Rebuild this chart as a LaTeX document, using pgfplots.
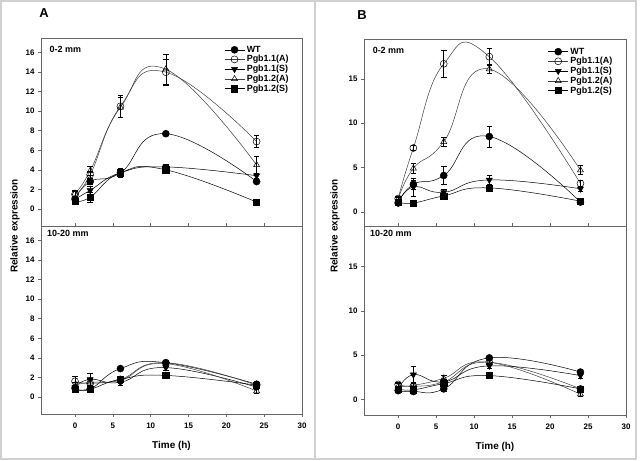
\documentclass[border=0pt]{standalone}
\usepackage{pgfplots}
\pgfplotsset{compat=1.18}
\usepackage{fontspec}
\setmainfont{Liberation Sans}

\pgfplotsset{
  panel/.style={
    scale only axis,
    xmin=-4.5, xmax=30,
    xtick={0,5,...,30},
    axis line style={black!60, line width=0.8bp},
    tick style={black!60, line width=0.6bp},
    major tick length=3bp,
    ytick pos=left, xtick pos=bottom,
    yticklabel style={font=\fontsize{8}{9}\selectfont\bfseries},
    xticklabel style={font=\fontsize{8}{9}\selectfont\bfseries, yshift=-2bp},
    /pgf/number format/assume math mode=true,
    clip=false,
  },
  toppanel/.style={panel, xticklabels={}, xtick align=inside, ytick align=outside},
  botpanel/.style={panel, tick align=outside,
    xlabel={Time (h)},
    xlabel style={font=\fontsize{10}{11}\selectfont\bfseries, yshift=-6bp}},
  lg/.style={legend style={draw=none, fill=none, anchor=north west,
    font=\fontsize{9}{10}\selectfont\bfseries, row sep=-2.2bp,
    cells={anchor=west}},
    legend image code/.code={
      \draw[mark repeat=2,mark phase=2] plot coordinates {(0bp,0bp) (10bp,0bp) (20bp,0bp)};}},
  ser/.style={line width=0.5bp, smooth, tension=0.8, mark size=3.5bp,
    error bars/y dir=both, error bars/y explicit,
    error bars/error bar style={black, line width=0.5bp},
    error bars/error mark options={black, line width=0.5bp, mark size=2.8bp, rotate=90}},
  wt/.style={ser, black, mark=*, mark options={fill=black, solid}},
  p11a/.style={ser, black!75, mark=o, mark options={fill=white, draw=black, solid}},
  p11s/.style={ser, black, mark=triangle*, mark options={fill=black, rotate=180, solid}},
  p12a/.style={ser, black!75, mark=triangle, mark options={fill=white, draw=black, solid}},
  p12s/.style={ser, black, mark=square*, mark size=3.1bp, mark options={fill=black, solid}},
}

\begin{document}
\begin{tikzpicture}
\useasboundingbox (0,0) rectangle (640bp,461bp);
\fill[white] (0,0) rectangle (640bp,461bp);
\draw[black!18, line width=1.4bp] (1bp,2bp) rectangle (315bp,460bp);
\draw[black!18, line width=1.4bp] (315bp,2bp) rectangle (636bp,460bp);

\node[font=\fontsize{13}{15}\selectfont\bfseries] at (44bp,448bp) {A};
\node[font=\fontsize{13}{15}\selectfont\bfseries] at (362bp,446bp) {B};
\node[rotate=90, font=\fontsize{10}{11}\selectfont\bfseries] at (15bp,235bp) {Relative expression};
\node[rotate=90, font=\fontsize{10}{11}\selectfont\bfseries] at (335bp,235bp) {Relative expression};

% ---------- Panel A, 0-2 mm ----------
\begin{axis}[toppanel, lg, at={(41bp,235bp)}, anchor=south west,
  width=261bp, height=188bp, ymin=-1.75, ymax=17.5, ytick={0,2,...,16},
  legend style={at={(0.69,0.98)}}]
\node[anchor=north west, font=\fontsize{9}{10}\selectfont\bfseries] at (rel axis cs:0.02,0.975) {0-2 mm};
\addplot[wt] coordinates {(0,1.0) +- (0,0.2) (2,2.8) +- (0,0.3) (6,3.7) +- (0,0.5) (12,7.7) +- (0,0.2) (24,2.8) +- (0,0.2)};
\addplot[p11a] coordinates {(0,1.5) +- (0,0.3) (2,3.5) +- (0,0.4) (6,10.5) +- (0,1.1) (12,14.0) +- (0,1.3) (24,6.9) +- (0,0.6)};
\addplot[p11s] coordinates {(0,1.0) +- (0,0.2) (2,1.9) +- (0,0.4) (6,3.7) +- (0,0.3) (12,4.3) +- (0,0.3) (24,3.4) +- (0,0.3)};
\addplot[p12a] coordinates {(0,1.6) +- (0,0.3) (2,3.9) +- (0,0.5) (6,10.4) +- (0,1.0) (12,14.3) +- (0,1.5) (24,4.5) +- (0,0.9)};
\addplot[p12s] coordinates {(0,0.8) +- (0,0.2) (2,1.2) +- (0,0.5) (6,3.7) +- (0,0.3) (12,4.0) +- (0,0.4) (24,0.7) +- (0,0.1)};
\legend{WT, Pgb1.1(A), Pgb1.1(S), Pgb1.2(A), Pgb1.2(S)}
\end{axis}

% ---------- Panel A, 10-20 mm ----------
\begin{axis}[botpanel, at={(41bp,47bp)}, anchor=south west,
  width=261bp, height=188bp, ymin=-1.75, ymax=17.5, ytick={0,2,...,16}]
\node[anchor=north west, font=\fontsize{9}{10}\selectfont\bfseries] at (rel axis cs:0.01,0.995) {10-20 mm};
\addplot[wt] coordinates {(0,0.9) +- (0,0.2) (2,0.8) +- (0,0.2) (6,2.9) +- (0,0.2) (12,3.5) +- (0,0.2) (24,1.3) +- (0,0.3)};
\addplot[p11a] coordinates {(0,1.6) +- (0,0.5) (2,1.4) +- (0,0.4) (6,1.8) +- (0,0.3) (12,3.5) +- (0,0.2) (24,1.2) +- (0,0.3)};
\addplot[p11s] coordinates {(0,1.0) +- (0,0.2) (2,1.8) +- (0,0.6) (6,1.5) +- (0,0.3) (12,3.0) +- (0,0.3) (24,1.0) +- (0,0.2)};
\addplot[p12a] coordinates {(0,1.2) +- (0,0.3) (2,1.5) +- (0,0.4) (6,1.7) +- (0,0.3) (12,3.4) +- (0,0.3) (24,0.6) +- (0,0.2)};
\addplot[p12s] coordinates {(0,0.8) +- (0,0.2) (2,0.8) +- (0,0.2) (6,1.8) +- (0,0.3) (12,2.2) +- (0,0.3) (24,1.2) +- (0,0.3)};
\end{axis}

% ---------- Panel B, 0-2 mm ----------
\begin{axis}[toppanel, lg, at={(364bp,235bp)}, anchor=south west,
  width=262bp, height=187bp, ymin=-1.6, ymax=19.5, ytick={0,5,10,15},
  legend style={at={(0.69,0.975)}}]
\node[anchor=north west, font=\fontsize{9}{10}\selectfont\bfseries] at (rel axis cs:0.02,0.975) {0-2 mm};
\addplot[wt] coordinates {(0,1.0) +- (0,0.3) (2,3.1) +- (0,0.5) (6,4.1) +- (0,1.0) (12,8.5) +- (0,1.2) (24,1.1) +- (0,0.3)};
\addplot[p11a] coordinates {(0,1.5) +- (0,0.3) (2,7.2) +- (0,0.3) (6,16.7) +- (0,1.5) (12,17.5) +- (0,1.0) (24,3.2) +- (0,0.4)};
\addplot[p11s] coordinates {(0,1.0) +- (0,0.2) (2,2.8) +- (0,1.0) (6,2.2) +- (0,0.3) (12,3.6) +- (0,0.5) (24,2.6) +- (0,0.3)};
\addplot[p12a] coordinates {(0,1.4) +- (0,0.3) (2,4.9) +- (0,0.6) (6,7.9) +- (0,0.5) (12,16.1) +- (0,0.5) (24,4.7) +- (0,0.5)};
\addplot[p12s] coordinates {(0,1.1) +- (0,0.2) (2,1.0) +- (0,0.2) (6,1.8) +- (0,0.3) (12,2.7) +- (0,0.3) (24,1.2) +- (0,0.2)};
\legend{WT, Pgb1.1(A), Pgb1.1(S), Pgb1.2(A), Pgb1.2(S)}
\end{axis}

% ---------- Panel B, 10-20 mm ----------
\begin{axis}[botpanel, at={(364bp,46bp)}, anchor=south west,
  width=262bp, height=189bp, ymin=-1.75, ymax=19.6, ytick={0,5,10,15}]
\node[anchor=north west, font=\fontsize{9}{10}\selectfont\bfseries] at (rel axis cs:0.01,0.995) {10-20 mm};
\addplot[wt] coordinates {(0,1.0) +- (0,0.2) (2,0.9) +- (0,0.2) (6,1.2) +- (0,0.3) (12,4.7) +- (0,0.2) (24,3.1) +- (0,0.3)};
\addplot[p11a] coordinates {(0,1.7) +- (0,0.3) (2,1.5) +- (0,0.3) (6,2.0) +- (0,0.3) (12,4.2) +- (0,0.3) (24,1.2) +- (0,0.2)};
\addplot[p11s] coordinates {(0,1.1) +- (0,0.2) (2,2.8) +- (0,1.0) (6,2.0) +- (0,0.3) (12,3.8) +- (0,0.3) (24,2.7) +- (0,0.3)};
\addplot[p12a] coordinates {(0,1.5) +- (0,0.3) (2,1.6) +- (0,0.3) (6,2.4) +- (0,0.3) (12,4.2) +- (0,0.3) (24,0.6) +- (0,0.2)};
\addplot[p12s] coordinates {(0,1.2) +- (0,0.2) (2,1.1) +- (0,0.2) (6,1.8) +- (0,0.3) (12,2.7) +- (0,0.3) (24,1.2) +- (0,0.2)};
\end{axis}
\end{tikzpicture}
\end{document}
